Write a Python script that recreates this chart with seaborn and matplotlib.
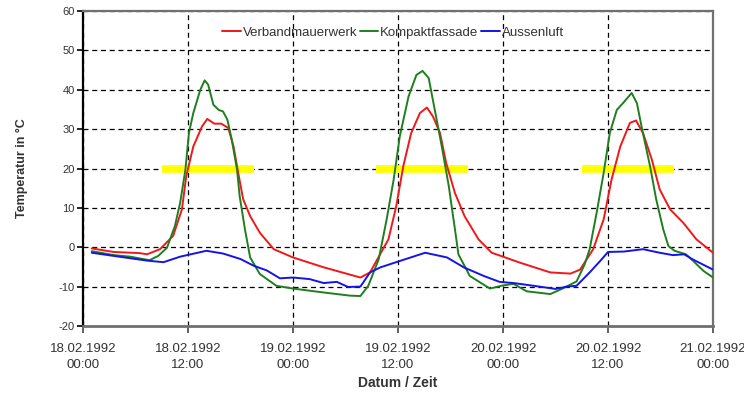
import matplotlib
matplotlib.use("Agg")
import matplotlib.pyplot as plt
import seaborn as sns
import pandas as pd

# Time in hours since 18.02.1992 00:00
verband_h = [1.0, 3.5, 6.5, 7.3, 8.8, 10.3, 11.3, 11.8, 12.6, 13.6, 14.2, 15.0, 15.8, 16.6, 17.2,
             17.8, 18.3, 19.1, 20.2, 21.8, 24.0, 27.5, 31.7, 32.8, 34.0, 34.9, 35.8, 36.6, 37.5,
             38.5, 39.3, 40.0, 40.8, 41.5, 42.5, 43.6, 45.2, 46.7, 48.0, 49.9, 53.4, 55.7, 56.8,
             58.3, 59.5, 60.4, 61.4, 62.5, 63.2, 64.0, 65.0, 65.9, 67.1, 68.6, 70.1, 72.0]
verband_t = [-0.3, -1.2, -1.5, -1.8, -0.5, 2.9, 9.6, 18.1, 25.6, 30.7, 32.6, 31.4, 31.4, 30.3, 25.6,
             18.1, 12.2, 7.9, 3.7, -0.5, -2.6, -5.1, -7.7, -6.4, -1.6, 2.0, 10.5, 20.6, 29.0,
             34.1, 35.5, 33.2, 29.0, 21.4, 13.8, 7.9, 2.0, -1.4, -2.4, -3.9, -6.4, -6.7, -5.7,
             -0.5, 7.1, 17.2, 25.6, 31.6, 32.2, 29.0, 22.3, 14.7, 9.6, 6.2, 2.0, -1.4]

kompakt_h = [1.0, 3.5, 5.4, 7.6, 8.6, 9.6, 10.5, 11.1, 11.7, 12.1, 12.6, 13.4, 13.9, 14.3, 14.9,
             15.5, 16.0, 16.5, 17.0, 17.6, 17.9, 18.5, 19.1, 20.2, 22.1, 24.0, 27.5, 30.5, 31.7,
             32.6, 33.8, 34.7, 35.5, 36.2, 37.2, 38.1, 38.8, 39.5, 40.2, 41.0, 41.8, 42.5, 42.9,
             44.2, 46.5, 48.0, 49.2, 50.7, 53.4, 54.9, 56.4, 57.3, 57.9, 58.7, 59.5, 60.2, 61.0,
             61.7, 62.7, 63.3, 63.9, 64.8, 65.5, 66.3, 66.9, 67.6, 68.9, 69.5, 70.9, 72.0]
kompakt_t = [-1.0, -2.0, -2.4, -3.3, -2.2, -0.1, 5.4, 11.3, 19.7, 29.0, 34.1, 40.0, 42.4, 41.3, 36.2,
             34.9, 34.5, 32.4, 27.3, 19.7, 13.0, 4.6, -2.6, -6.8, -9.8, -10.5, -11.5, -12.3, -12.4,
             -9.8, -3.0, 7.1, 17.2, 28.2, 38.3, 43.8, 44.8, 43.0, 34.9, 25.6, 15.5, 4.6, -1.8,
             -7.3, -10.5, -9.7, -9.3, -11.2, -11.9, -10.4, -8.7, -4.5, -0.5, 8.8, 18.9, 29.0, 34.9,
             36.6, 39.2, 36.6, 29.9, 20.6, 12.2, 4.6, 0.3, -0.9, -1.8, -3.0, -6.0, -7.7]

aussen_h = [1.0, 3.5, 7.3, 9.2, 11.1, 14.1, 16.0, 18.0, 19.5, 21.0, 22.5, 24.0, 25.9, 27.5, 29.0,
            30.3, 31.7, 32.8, 34.0, 36.2, 39.1, 41.6, 43.5, 45.8, 47.6, 49.2, 51.5, 54.0, 55.3,
            56.4, 57.9, 59.1, 60.0, 61.8, 64.0, 65.9, 67.4, 68.7, 69.6, 72.0]
aussen_t = [-1.4, -2.2, -3.4, -3.8, -2.4, -0.9, -1.6, -3.0, -4.7, -5.9, -7.9, -7.7, -8.1, -9.1, -8.8,
            -10.1, -10.0, -6.4, -5.1, -3.5, -1.4, -2.6, -5.1, -7.3, -8.8, -9.1, -9.8, -10.6, -10.0,
            -9.8, -6.4, -3.5, -1.2, -1.1, -0.5, -1.4, -2.0, -1.8, -3.0, -5.7]

# Occupancy periods drawn at 20 °C (start hour, end hour)
band_start = [9.0, 33.5, 57.0]
band_end = [19.5, 44.0, 67.5]
band_level = 20

series_names = ["Verbandmauerwerk", "Kompaktfassade", "Aussenluft"]
series_colors = ["#f01818", "#1f7f1f", "#1414e6"]

tick_hours = [0, 12, 24, 36, 48, 60, 72]
tick_labels = ["18.02.1992\n00:00", "18.02.1992\n12:00", "19.02.1992\n00:00", "19.02.1992\n12:00",
               "20.02.1992\n00:00", "20.02.1992\n12:00", "21.02.1992\n00:00"]

frames = []
for name, h, t in zip(series_names,
                      [verband_h, kompakt_h, aussen_h],
                      [verband_t, kompakt_t, aussen_t]):
    frames.append(pd.DataFrame({"Stunde": h, "Temperatur": t, "Messstelle": name}))
df = pd.concat(frames, ignore_index=True)

sns.set_style("white")
plt.rcParams["font.family"] = ["Liberation Sans", "DejaVu Sans"]

fig = plt.figure(figsize=(7.44, 3.97), dpi=100)
ax = fig.add_axes([0.1116, 0.179, 0.8468, 0.793])

txt = "#333333"

for s, e in zip(band_start, band_end):
    ax.plot([s, e], [band_level, band_level], color="#ffff00", lw=5.5,
            solid_capstyle="butt", zorder=3)

sns.lineplot(data=df, x="Stunde", y="Temperatur", hue="Messstelle",
             palette=dict(zip(series_names, series_colors)), estimator=None,
             sort=True, lw=1.4, ax=ax, zorder=4)

ax.set_xlim(0, 72)
ax.set_ylim(-20, 60)
ax.set_xticks(tick_hours)
ax.set_xticklabels(tick_labels, fontsize=9.5, color=txt, linespacing=1.45)
ax.set_yticks(range(-20, 61, 10))
ax.set_yticklabels([str(v) for v in range(-20, 61, 10)], fontsize=8, color=txt)

ax.grid(True, color="black", linestyle=(0, (4, 3)), lw=0.9)
ax.set_axisbelow(True)

ax.tick_params(axis="x", direction="out", length=5, width=1.3, color="#555555", pad=7, bottom=True)
ax.tick_params(axis="y", direction="out", length=4, width=1.2, color="black", pad=2, left=True)

for side in ["top", "right", "bottom"]:
    ax.spines[side].set_color("#707070")
    ax.spines[side].set_linewidth(1.6)
ax.spines["bottom"].set_linewidth(2.0)
ax.spines["left"].set_color("black")
ax.spines["left"].set_linewidth(1.6)

ax.set_xlabel("Datum / Zeit", fontsize=10, fontweight="bold", color=txt, labelpad=4)
ax.set_ylabel("Temperatur in °C", fontsize=9, fontweight="bold", color=txt, labelpad=22)

handles, labels = ax.get_legend_handles_labels()
ax.legend(handles, labels, loc="center", bbox_to_anchor=(0.492, 0.931), ncol=3,
          frameon=False, fontsize=9.5, handlelength=1.4, handletextpad=0.15,
          columnspacing=0.2, labelcolor=txt)

fig.savefig("out.png", dpi=100)
